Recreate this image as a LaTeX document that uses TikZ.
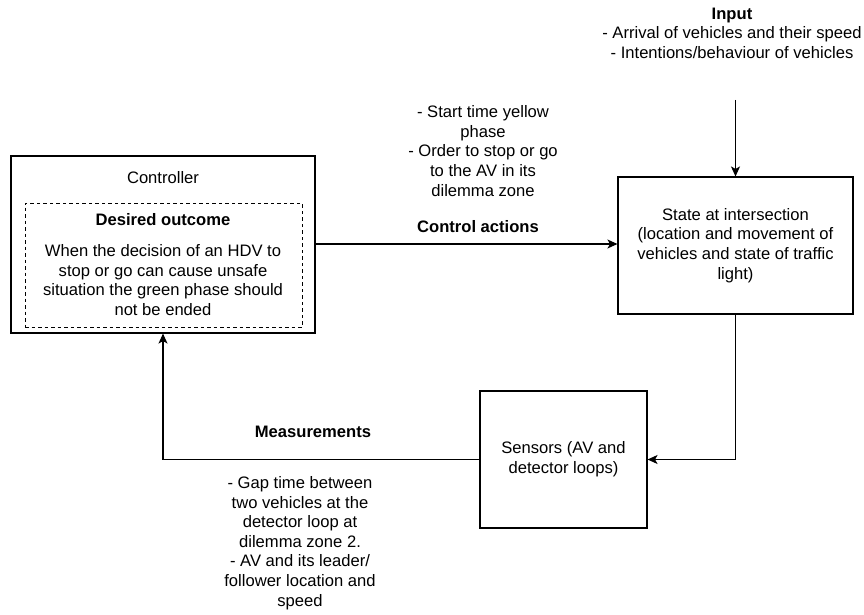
\documentclass[tikz,border=0pt]{standalone}
\usepackage{fontspec}
\setmainfont{Liberation Sans}
\usetikzlibrary{arrows.meta}

\begin{document}
\begin{tikzpicture}[x=1pt,y=-1pt]
  \tikzstyle{box}    =[draw, rectangle, line width=1.1pt, inner sep=0pt]
  \tikzstyle{dashbox}=[draw, rectangle, line width=1pt, dash pattern=on 3.5pt off 3pt, inner sep=0pt]
  \tikzstyle{txt}    =[align=center, inner sep=0pt, font=\fontsize{16.6}{19.6}\selectfont]
  \tikzstyle{arr}    =[line width=1.1pt, -{Stealth[length=10pt, width=9pt, inset=2.5pt]}]
  \useasboundingbox (0,0) rectangle (864,615);
  \node[box, minimum width=304, minimum height=177](ctrl) at (163,244.5) {};
  \node[txt](ctrltitle) at (163,178) {Controller};
  \node[dashbox, minimum width=277, minimum height=124](goal) at (163.5,265) {};
  \node[txt](goaltitle) at (163,220) {\textbf{Desired outcome}};
  \node[txt](goaltext) at (163,280) {When the decision of an HDV to\\stop or go can cause unsafe\\situation the green phase should\\not be ended};
  \node[box, minimum width=235, minimum height=137, txt](state) at (735.5,245.5) {State at intersection\\(location and movement of\\vehicles and state of traffic\\light)};
  \node[box, minimum width=167, minimum height=137, txt](sensors) at (563.5,459.5) {Sensors (AV and\\detector loops)};
  \node[txt](input) at (732,33) {\textbf{Input}\\- Arrival of vehicles and their speed\\- Intentions/behaviour of vehicles};
  \coordinate (inarr) at (735.5,100);
  \node[txt](ctrllabel) at (478,227) {\textbf{Control actions}};
  \node[txt](ctrlinfo) at (483,151) {- Start time yellow\\phase\\- Order to stop or go\\to the AV in its\\dilemma zone};
  \node[txt](measlabel) at (313,432) {\textbf{Measurements}};
  \node[txt](measinfo) at (300,543) {- Gap time between\\two vehicles at the\\detector loop at\\dilemma zone 2.\\- AV and its leader/\\follower location and\\speed};
  \draw[arr] (inarr) -- (state.north);
  \draw[arr] (ctrl.east |- 0,244) -- (state.west |- 0,244);
  \draw[arr] (state.south) |- (sensors.east);
  \draw[arr] (sensors.west) -| (ctrl.south);
\end{tikzpicture}
\end{document}
